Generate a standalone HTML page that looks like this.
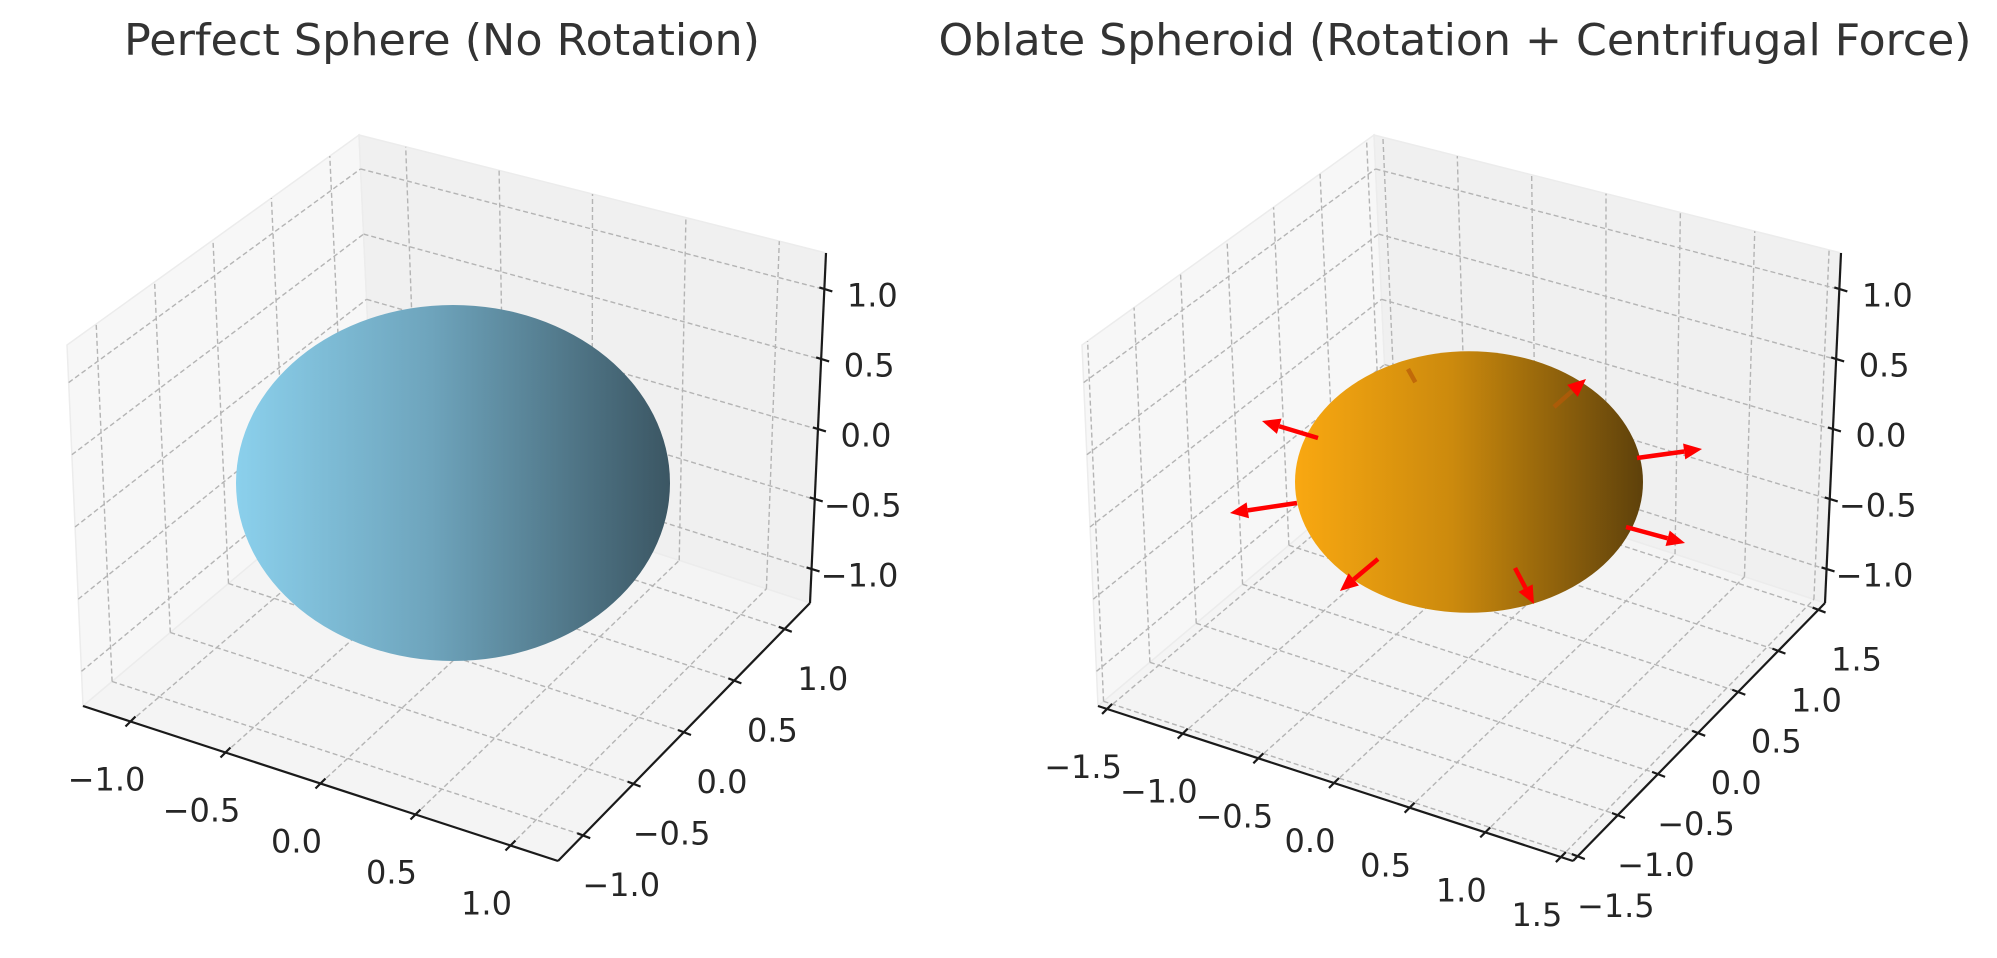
<!DOCTYPE html>
<html><head><meta charset="utf-8"><style>
html,body{margin:0;padding:0;background:#fff;}
svg{display:block;}
text{font-family:"DejaVu Sans","Liberation Sans",sans-serif;}
</style></head><body>
<svg id="fig" width="1997" height="958" viewBox="0 0 1997 958" xmlns="http://www.w3.org/2000/svg">
<defs>
<linearGradient id="gBlue" x1="0" y1="0" x2="1" y2="0">
<stop offset="0" stop-color="#8bd0ec"/><stop offset="0.45" stop-color="#6ea4bc"/><stop offset="1" stop-color="#3b5663"/>
</linearGradient>
<linearGradient id="gOrange" x1="0" y1="0" x2="1" y2="0">
<stop offset="0" stop-color="#f9a811"/><stop offset="0.45" stop-color="#cc8a0d"/><stop offset="1" stop-color="#5e410b"/>
</linearGradient>
</defs>
</svg>
<script>
// ---- data ----
const titles = ["Perfect Sphere (No Rotation)", "Oblate Spheroid (Rotation + Centrifugal Force)"];
const leftXYTicks = [-1.0, -0.5, 0.0, 0.5, 1.0];
const rightXYTicks = [-1.5, -1.0, -0.5, 0.0, 0.5, 1.0, 1.5];
const zTicks = [-1.0, -0.5, 0.0, 0.5, 1.0];
const leftLimits = [-1.25, 1.25];
const rightLimits = [-1.56, 1.58];
const zLimits = [-1.24, 1.26];
const sphereRadii = [1.0, 1.0, 1.0];      // a, b, c of perfect sphere
const spheroidRadii = [0.8, 0.8, 0.6];    // oblate spheroid (display-scaled)
// force arrows on the spheroid (screen space start/end)
const arrowStartX = [1318, 1297, 1378, 1515, 1626, 1637, 1554, 1408];
const arrowStartY = [438, 503, 559, 568, 527, 458, 407, 369];
const arrowEndX   = [1262, 1230, 1340, 1534, 1685, 1702, 1586, 1424];
const arrowEndY   = [421, 513, 591, 604, 543, 449, 379, 398];
const arrowHidden = [false, false, false, false, false, false, true, true];

const svg = document.getElementById('fig');
const NS = 'http://www.w3.org/2000/svg';
function mk(tag, attrs, parent){const e=document.createElementNS(NS,tag);for(const k in attrs)e.setAttribute(k,attrs[k]);(parent||svg).appendChild(e);return e;}

function panel(idx, dx, xyTicks, lim, radii, grad, center, rads){
  const g = mk('g',{});
  
  
  const LT=[67+dx,345], LB=[83+dx,706], BB=[374+dx,461], BT=[359+dx,135], RT=[826+dx,253], RB=[810+dx,603], FB=[558+dx,861];
  const bil=(c,u,v)=>{
    return [c[0][0]*(1-u)*(1-v)+c[1][0]*u*(1-v)+c[2][0]*u*v+c[3][0]*(1-u)*v,
            c[0][1]*(1-u)*(1-v)+c[1][1]*u*(1-v)+c[2][1]*u*v+c[3][1]*(1-u)*v];};
  const fx=v=>(v-lim[0])/(lim[1]-lim[0]);
  const fz=v=>(v-zLimits[0])/(zLimits[1]-zLimits[0]);
  const leftPane=[LB,BB,BT,LT], rightPane=[BB,RB,RT,BT], floor=[LB,FB,RB,BB];
  const poly=(pts,fill,name)=>{const p=mk('polygon',{points:pts.map(p=>p.join(',')).join(' '),fill:fill,stroke:'#ececec','stroke-width':1.5},g);
    
    };
  poly(leftPane,'#f7f7f7','left-pane');poly(rightPane,'#f0f0f0','back-pane');poly(floor,'#f4f4f4','floor-pane');
  const grid=(a,b,name)=>{const l=mk('line',{x1:a[0],y1:a[1],x2:b[0],y2:b[1],stroke:'#b4b4b4','stroke-width':1.4,'stroke-dasharray':'5,3'},g);
    
    };
  xyTicks.forEach(t=>{const u=fx(t);
    grid(bil(floor,u,0),bil(floor,u,1),'x-gridline');
    grid(bil(rightPane,u,0),bil(rightPane,u,1),'x-gridline');
    grid(bil(floor,0,u),bil(floor,1,u),'y-gridline');
    grid(bil(leftPane,u,0),bil(leftPane,u,1),'y-gridline');});
  zTicks.forEach(t=>{const v=fz(t);
    grid(bil(leftPane,0,v),bil(leftPane,1,v),'z-gridline');
    grid(bil(rightPane,0,v),bil(rightPane,1,v),'z-gridline');});
  const ax=(a,b,name)=>{const l=mk('line',{x1:a[0],y1:a[1],x2:b[0],y2:b[1],stroke:'#1a1a1a','stroke-width':2.2},g);
    
    };
  ax(LB,FB,'x-axis');ax(FB,RB,'y-axis');ax(RB,RT,'z-axis');
  const lab=(p,txt,name)=>{const t=mk('text',{x:p[0],y:p[1]+11,'font-size':32,fill:'#262626','text-anchor':'middle'},g);t.textContent=txt;
    
    };
  const fmt=v=>(v<0?'\u2212':'')+Math.abs(v).toFixed(1);
  xyTicks.forEach(t=>{const u=fx(t);
    const p=[LB[0]+(FB[0]-LB[0])*u, LB[1]+(FB[1]-LB[1])*u];
    ax([p[0]-5,p[1]+5],[p[0]+5,p[1]-5],'x-tick');
    lab([p[0]-24,p[1]+58],fmt(t),'x-tick-label');
    const q=[FB[0]+(RB[0]-FB[0])*u, FB[1]+(RB[1]-FB[1])*u];
    ax([q[0]-6,q[1]-2],[q[0]+7,q[1]+3],'y-tick');
    lab([q[0]+38,q[1]+50],fmt(t),'y-tick-label');});
  zTicks.forEach(t=>{const v=fz(t);
    const p=[RB[0]+(RT[0]-RB[0])*v, RB[1]+(RT[1]-RB[1])*v];
    ax([p[0]-5,p[1]-2],[p[0]+8,p[1]+2],'z-tick');
    lab([p[0]+48,p[1]+6],fmt(t),'z-tick-label');});
  const e=mk('ellipse',{cx:center[0],cy:center[1],rx:rads[0]*radii[0],ry:rads[1]*radii[2],fill:'url(#'+grad+')'},g);
  
  
  const tt=mk('text',{x:[442,1455][idx],y:55,'font-size':44,fill:'#333333','text-anchor':'middle',textLength:[636,1033][idx],lengthAdjust:'spacingAndGlyphs'},g);
  tt.textContent=titles[idx];
  
  
  return g;
}
panel(0,0,leftXYTicks,leftLimits,sphereRadii,'gBlue',[453,483],[217,178]);
panel(1,1015,rightXYTicks,rightLimits,spheroidRadii,'gOrange',[1469,482],[217.5,218]);

const ag=mk('g',{});


arrowStartX.forEach((sx,i)=>{
  const sy=arrowStartY[i], ex=arrowEndX[i], ey=arrowEndY[i];
  const dx=ex-sx, dy=ey-sy, L=Math.hypot(dx,dy), ux=dx/L, uy=dy/L;
  const hl=18, hw=8;
  const bx=ex-ux*hl, by=ey-uy*hl;
  const col=arrowHidden[i]?'#b85a08':'#ff0000';
  const ln=mk('line',{x1:sx,y1:sy,x2:bx,y2:by,stroke:col,'stroke-width':4.5,opacity:arrowHidden[i]?0.7:1},ag);
  
  
  if(i!==7){
    const hd=mk('polygon',{points:[ex,ey,bx-uy*hw,by+ux*hw,bx+uy*hw,by-ux*hw].join(','),fill:'#ff0000'},ag);
    
    
  }
});
</script>
</body></html>
